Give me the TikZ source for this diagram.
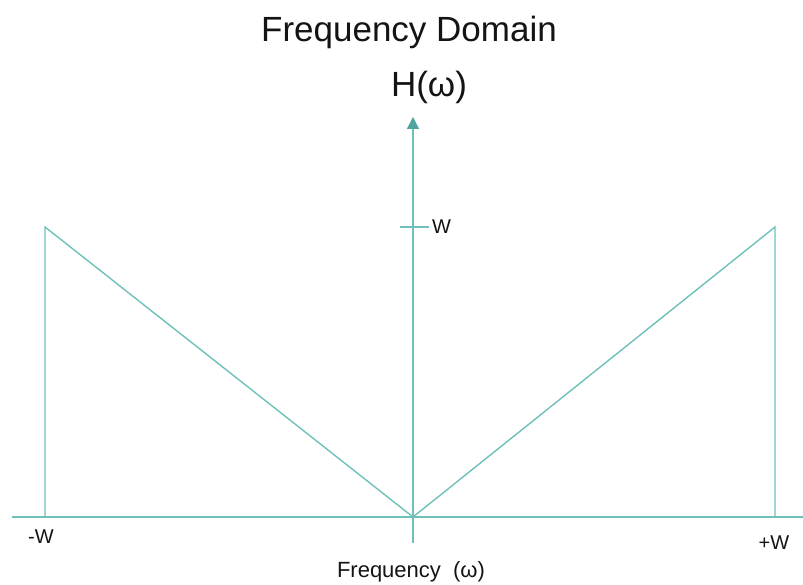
\documentclass[tikz,border=0pt]{standalone}
\usepackage{fontspec}
\setmainfont{Liberation Sans}
\usetikzlibrary{arrows.meta}
\definecolor{tealline}{RGB}{112,192,186}
\definecolor{tealtip}{RGB}{80,165,160}
\definecolor{txt}{RGB}{20,20,20}
\begin{document}
\begin{tikzpicture}[x=1pt,y=1pt,
  plotline/.style={draw=tealline,line width=1.4pt},
  lbl/.style={text=txt,inner sep=0pt,font=\fontsize{20}{24}\selectfont}]
\useasboundingbox (0,0) rectangle (803,585);
% coordinates (y = 585 - pixel row)
\coordinate (xl) at (12,68);
\coordinate (xr) at (803,68);
\coordinate (o) at (413,68);
\coordinate (yb) at (413,42);
\coordinate (yt) at (413,468);
\coordinate (lt) at (45,358);
\coordinate (lb) at (45,68);
\coordinate (rt) at (775,358);
\coordinate (rb) at (775,68);
\coordinate (tl) at (400,358);
\coordinate (tr) at (429,358);
% axes
\draw[plotline] (xl) -- (xr);
\draw[plotline,-{Triangle[length=12pt,width=12pt,fill=tealtip,color=tealtip]}] (yb) -- (yt);
\draw[plotline] (tl) -- (tr);
% response
\draw[plotline] (lb) -- (lt) -- (o) -- (rt) -- (rb);
% labels
\node[lbl,anchor=west] (wl) at (432,358) {W};
\node[lbl] (mw) at (41,48) {-W};
\node[lbl] (pw) at (774,42) {+W};
\node[text=txt,inner sep=0pt,font=\fontsize{22}{26}\selectfont] (fx) at (411,13) {Frequency\ \ (ω)};
\node[text=txt,inner sep=0pt,anchor=base,font=\fontsize{35}{40}\selectfont] (title) at (409,543) {Frequency Domain};
\node[text=txt,inner sep=0pt,anchor=base,font=\fontsize{35}{40}\selectfont] (hw) at (429,488) {H(ω)};
\end{tikzpicture}
\end{document}
